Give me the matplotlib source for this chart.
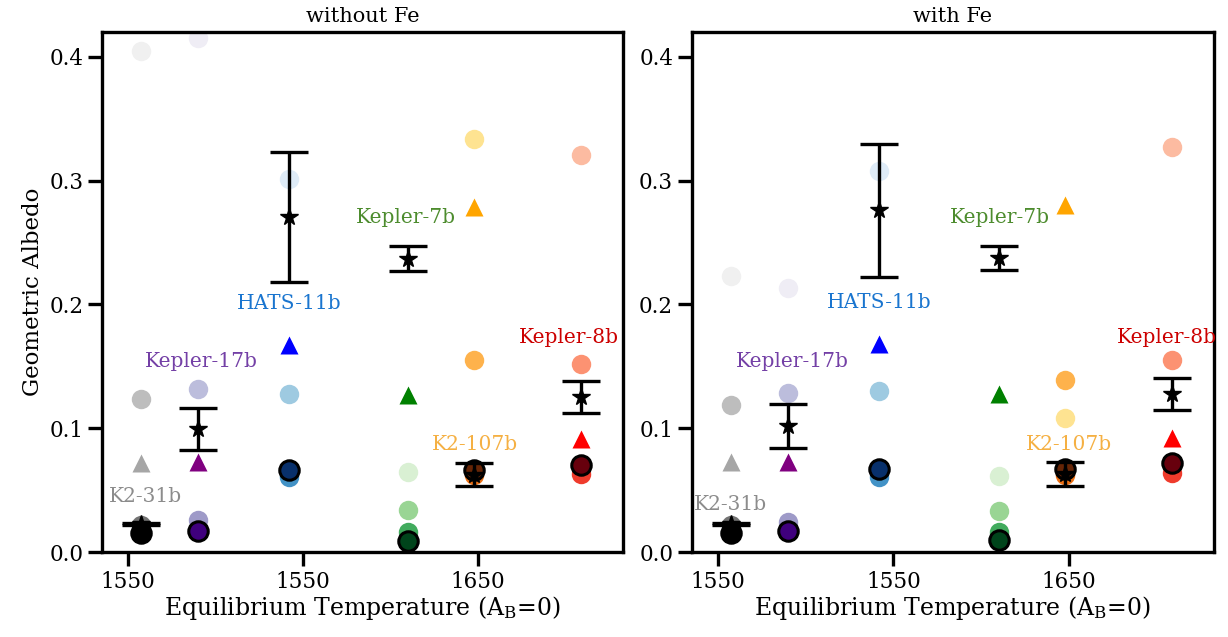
import numpy as np
import matplotlib
matplotlib.use("Agg")
import matplotlib.pyplot as plt

plt.rcParams["font.family"] = ["DejaVu Serif"]
plt.rcParams["mathtext.fontset"] = "dejavuserif"

planets = ["K2-31b", "Kepler-17b", "HATS-11b", "Kepler-7b", "K2-107b", "Kepler-8b"]
teq = [1457, 1490, 1542, 1610, 1648, 1709]
label_colors = ["#8c8c8c", "#7440a6", "#1a75cf", "#4d8c2e", "#f5b043", "#cc0000"]
tri_colors = ["#a6a6a6", "#800080", "#0000ff", "#008000", "#ffa500", "#ff0000"]
shades = [
    ["#f0f0f0", "#bdbdbd", "#737373", "#000000"],
    ["#efedf5", "#bcbddc", "#9e9ac8", "#3f007d"],
    ["#deebf7", "#9ecae1", "#4292c6", "#08306b"],
    ["#d9f0d3", "#99d594", "#41ab5d", "#00441b"],
    ["#fee391", "#feb24c", "#ec7014", "#662506"],
    ["#fcbba1", "#fc9272", "#ef3b2c", "#67000d"],
]
xticks = [1450, 1550, 1650]
xticklabels = ["1550", "1550", "1650"]

# without Fe
obs_nofe = [0.0225, 0.0995, 0.271, 0.237, 0.0626, 0.125]
err_nofe = [0.0008, 0.017, 0.0525, 0.0098, 0.0092, 0.0128]
tri_nofe = [0.0717, 0.073, 0.1673, 0.1269, 0.279, 0.091]
circ_nofe = [
    [0.405, 0.1234, 0.022, 0.0151],
    [0.415, 0.1318, 0.0259, 0.017],
    [0.3015, 0.1277, 0.0609, 0.0663],
    [0.065, 0.034, 0.0164, 0.0092],
    [0.3336, 0.1547, 0.062, 0.066],
    [0.3204, 0.1517, 0.063, 0.0703],
]
lab_x_nofe = [1460, 1492, 1542, 1609, 1648, 1702]
lab_y_nofe = [0.0447, 0.1536, 0.201, 0.270, 0.0865, 0.173]

# with Fe
obs_fe = [0.0225, 0.1016, 0.276, 0.2374, 0.0632, 0.1276]
err_fe = [0.0008, 0.0178, 0.0536, 0.010, 0.0098, 0.0128]
tri_fe = [0.073, 0.073, 0.168, 0.1277, 0.2805, 0.0919]
circ_fe = [
    [0.223, 0.1188, 0.022, 0.015],
    [0.2129, 0.1283, 0.0245, 0.017],
    [0.3075, 0.1304, 0.061, 0.067],
    [0.0614, 0.0334, 0.0164, 0.0097],
    [0.108, 0.139, 0.062, 0.067],
    [0.3269, 0.1547, 0.0636, 0.0717],
]
lab_x_fe = [1457, 1492, 1542, 1611, 1650, 1706]
lab_y_fe = [0.038, 0.154, 0.2015, 0.270, 0.0865, 0.173]


def panel(ax, obs, err, tri, circ, lab_x, lab_y, title):
    for i in range(len(planets)):
        for j in range(3):
            ax.plot(teq[i], circ[i][j], "o", ms=14, color=shades[i][j], mec="none", zorder=2)
        ax.plot(teq[i], tri[i], "^", ms=12.5, color=tri_colors[i], mec="none", zorder=2)
        ax.plot(teq[i], circ[i][3], "o", ms=14, color=shades[i][3], mec="black", mew=2.2, zorder=3)
        ax.errorbar(teq[i], obs[i], yerr=err[i], fmt="*", ms=13, color="black",
                    ecolor="black", elinewidth=2.4, capsize=14, capthick=2.4, zorder=4)
        ax.text(lab_x[i], lab_y[i], planets[i], color=label_colors[i], fontsize=14.5,
                ha="center", va="center", zorder=5)
    ax.set_xlim(1435, 1733)
    ax.set_ylim(0, 0.42)
    ax.set_xticks(xticks)
    ax.set_xticklabels(xticklabels)
    ax.set_yticks([0.0, 0.1, 0.2, 0.3, 0.4])
    ax.set_yticklabels(["0.0", "0.1", "0.2", "0.3", "0.4"])
    ax.tick_params(labelsize=15.5, length=10, width=2.4)
    for s in ax.spines.values():
        s.set_linewidth(2.4)
    ax.set_xlabel("Equilibrium Temperature (A$_\\mathrm{B}$=0)", fontsize=17, labelpad=1)
    ax.set_title(title, fontsize=15, pad=7)


fig = plt.figure(figsize=(12.28, 6.37), dpi=100)
ax1 = fig.add_axes([0.0831, 0.1334, 0.4243, 0.8163])
ax2 = fig.add_axes([0.5635, 0.1334, 0.4251, 0.8163])

panel(ax1, obs_nofe, err_nofe, tri_nofe, circ_nofe, lab_x_nofe, lab_y_nofe, "without Fe")
panel(ax2, obs_fe, err_fe, tri_fe, circ_fe, lab_x_fe, lab_y_fe, "with Fe")
ax1.set_ylabel("Geometric Albedo", fontsize=16.5)

fig.savefig("out.png", dpi=100)
